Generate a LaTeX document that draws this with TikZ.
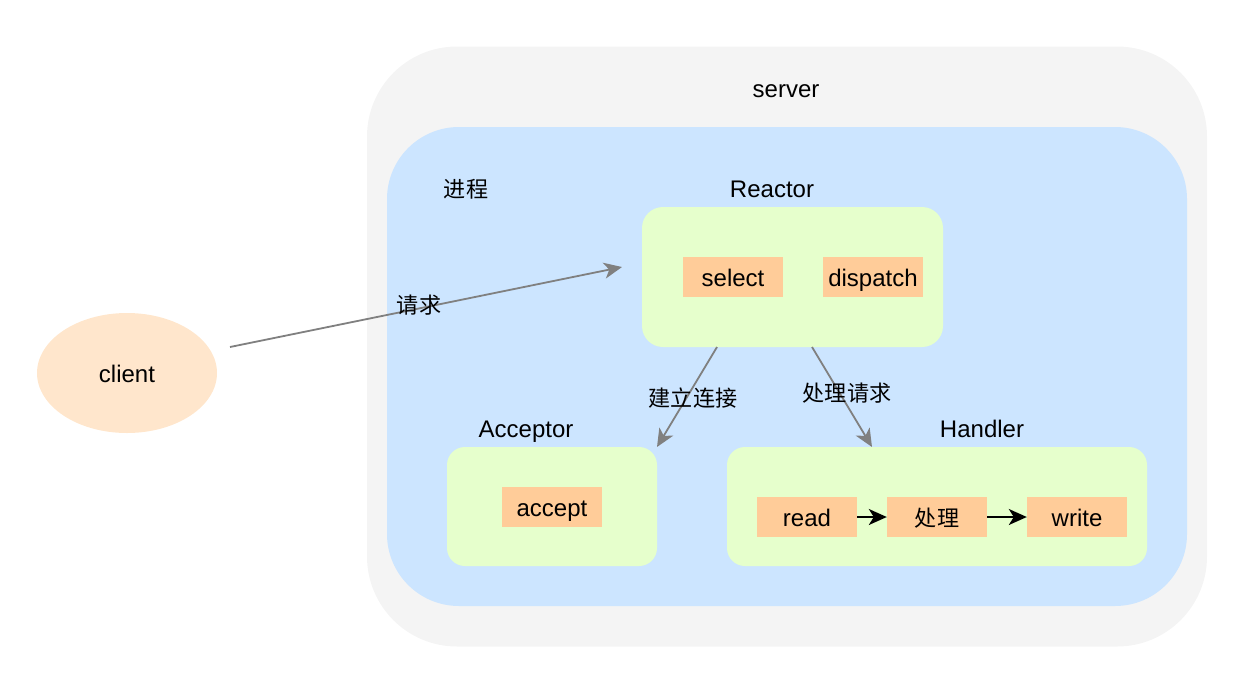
\documentclass[tikz,border=0pt]{standalone}
\usepackage{fontspec}
\setmainfont{Liberation Sans}
\newfontfamily\cjk[Scale=0.92]{Noto Sans CJK SC}
\usetikzlibrary{arrows.meta,shapes.geometric}
\definecolor{srvgray}{HTML}{F4F4F4}
\definecolor{procblue}{HTML}{CCE5FF}
\definecolor{modgreen}{HTML}{E6FFCC}
\definecolor{itemorange}{HTML}{FFCC99}
\definecolor{clientorange}{HTML}{FFE6CC}
\definecolor{arrowgray}{HTML}{808080}
\tikzset{
  area/.style={draw=none, inner sep=0pt},
  item/.style={draw=none, fill=itemorange, inner sep=0pt, minimum width=100pt, minimum height=40pt, text height=22pt, text depth=4pt},
  lbl/.style={inner sep=0pt, text height=22pt, text depth=4pt},
  grayarrow/.style={draw=arrowgray, line width=1.8pt, -{Stealth[length=18pt,width=16pt,inset=5pt]}},
  blackarrow/.style={draw=black, line width=1.8pt, -{Stealth[length=18pt,width=16pt,inset=5pt]}},
}
\begin{document}
\begin{tikzpicture}[x=1pt,y=-1pt, font=\fontsize{24}{29}\selectfont]
\useasboundingbox (0,0) rectangle (1260,686);
% server
\node[area, fill=srvgray, rounded corners=90pt, minimum width=840pt, minimum height=600pt] (server) at (787,346.5) {};
\node[lbl] (serverlbl) at (786,88) {server};
% process
\node[area, fill=procblue, rounded corners=72pt, minimum width=800pt, minimum height=479pt] (proc) at (787,366.5) {};
\node[lbl] (proclbl) at (466,188) {\cjk 进程};
% Reactor
\node[area, fill=modgreen, rounded corners=21pt, minimum width=301pt, minimum height=140pt] (reactor) at (792.5,277) {};
\node[lbl] (reactorlbl) at (772,188) {Reactor};
\node[item] (select) at (733,277) {select};
\node[item] (dispatch) at (873,277) {dispatch};
% Acceptor
\node[area, fill=modgreen, rounded corners=18pt, minimum width=210pt, minimum height=119pt] (acceptor) at (552,506.5) {};
\node[lbl] (acceptorlbl) at (526,428) {Acceptor};
\node[item] (accept) at (552,507) {accept};
% Handler
\node[area, fill=modgreen, rounded corners=18pt, minimum width=420pt, minimum height=119pt] (handler) at (937,506.5) {};
\node[lbl] (handlerlbl) at (982,428) {Handler};
\node[item] (read) at (807,517) {read};
\node[item] (proc2) at (937,517) {\cjk 处理};
\node[item] (write) at (1077,517) {write};
% client
\node[draw=none, fill=clientorange, ellipse, minimum width=180pt, minimum height=120pt, inner sep=0pt, text height=22pt, text depth=4pt] (client) at (127,373) {client};
% connectors
\coordinate (cstart) at (230,347);
\coordinate (cend) at (622,267);
\coordinate (r1) at (717,347);
\coordinate (a1) at (657,447);
\coordinate (r2) at (812,347);
\coordinate (h1) at (872,447);
\draw[grayarrow] (cstart) -- (cend);
\node[lbl] (reqlbl) at (419,304) {\cjk 请求};
\draw[grayarrow] (r1) -- (a1);
\node[lbl] (connlbl) at (693,397) {\cjk 建立连接};
\draw[grayarrow] (r2) -- (h1);
\node[lbl] (handlelbl) at (847,392) {\cjk 处理请求};
\draw[blackarrow] (read) -- (proc2);
\draw[blackarrow] (proc2) -- (write);
\end{tikzpicture}
\end{document}
